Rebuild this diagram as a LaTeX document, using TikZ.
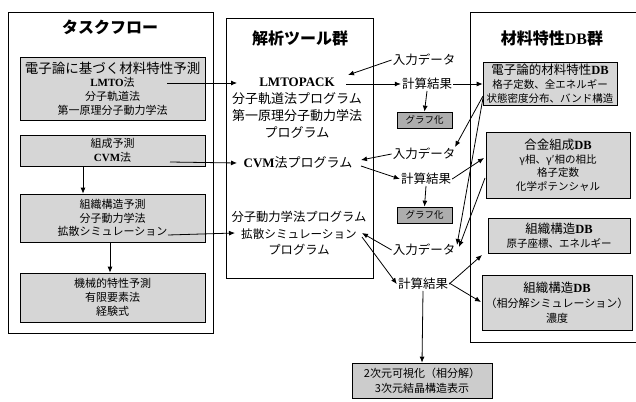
\documentclass[tikz,border=0pt]{standalone}
\usepackage{fontspec}
\setmainfont{Noto Sans CJK JP}
\newfontfamily\lat{Liberation Serif}
\usetikzlibrary{arrows.meta}
\newcommand{\LT}[1]{{\lat\bfseries #1}}
\tikzset{
  panel/.style={draw, line width=0.8pt},
  title/.style={font=\fontsize{16}{18}\selectfont\bfseries, inner sep=0pt},
  box/.style={draw, fill=black!16, line width=0.7pt, align=center, inner sep=1pt, font=\fontsize{11}{13.8}\selectfont},
  gbox/.style={draw, fill=black!32, line width=0.7pt, align=center, inner sep=0pt, font=\fontsize{9.5}{11}\selectfont, minimum width=55pt, minimum height=16pt},
  lbl/.style={font=\fontsize{12.5}{16.8}\selectfont, align=center, inner sep=1pt},
  arr/.style={-{Latex[length=6pt,width=5pt]}, line width=0.8pt},
}
\begin{document}
\begin{tikzpicture}[x=1pt,y=-1pt]
\useasboundingbox (0,0) rectangle (636,401);
% panels
\node[panel, minimum width=205pt, minimum height=321pt, inner sep=0pt] (pL) at (110.5,172.5) {};
\node[title] (tL) at (110,27) {タスクフロー};
\node[panel, minimum width=147pt, minimum height=260pt, inner sep=0pt] (pM) at (299.5,148) {};
\node[title] (tM) at (300,38) {解析ツール群};
\draw[panel] (640,12) -- (470,12) -- (470,342) -- (640,342);
\node[title] (tR) at (552,38) {材料特性\LT{DB}群};
% task flow boxes
\node[box, minimum width=185pt, minimum height=63pt] (t1) at (112.5,88.5)
  {{\fontsize{13.5}{15}\selectfont 電子論に基づく材料特性予測}\\\LT{LMTO}法\\分子軌道法\\第一原理分子動力学法};
\node[box, minimum width=185pt, minimum height=31pt] (t2) at (112.5,150.5) {組成予測\\\LT{CVM}法};
\node[box, minimum width=185pt, minimum height=48pt] (t3) at (112.5,218) {組織構造予測\\分子動力学法\\拡散シミュレーション};
\node[box, minimum width=185pt, minimum height=49pt] (t4) at (112.5,297.5) {機械的特性予測\\有限要素法\\経験式};
\draw[arr] ([xshift=-29.5pt]t2.south) -- ([xshift=-29.5pt]t3.north);
\draw[arr] ([xshift=-2.5pt]t3.south) -- ([xshift=-2.5pt]t4.north);
% tools
\node[lbl, font=\fontsize{13}{17}\selectfont] (m1) at (297,108.5) {\LT{LMTOPACK}\\分子軌道法プログラム\\第一原理分子動力学法\\プログラム};
\node[lbl, font=\fontsize{13}{17}\selectfont] (m2) at (298,163) {\LT{CVM}法プログラム};
\node[lbl, font=\fontsize{12.3}{16.5}\selectfont] (m3) at (299,233.5) {分子動力学法プログラム\\{\fontsize{11.6}{16.5}\selectfont 拡散シミュレーション}\\プログラム};
% connectors task -> tools
\coordinate (c1a) at (167,83);  \coordinate (c1b) at (237,83);
\coordinate (c2a) at (170,162); \coordinate (c2b) at (237,163);
\coordinate (c3a) at (168,235); \coordinate (c3b) at (235,233);
\draw[arr] (c1a) -- (c1b);
\draw[arr] (c2a) -- (c2b);
\draw[arr] (c3a) -- (c3b);
% data labels
\node[lbl] (in1) at (424,60) {入力データ};
\node[lbl] (r1) at (427,84) {計算結果};
\node[gbox] (g1) at (424.5,120) {グラフ化};
\node[lbl] (in2) at (424,154) {入力データ};
\node[lbl] (r2) at (426,179) {計算結果};
\node[gbox] (g2) at (424.5,215) {グラフ化};
\node[lbl] (in3) at (424,250) {入力データ};
\node[lbl] (r3) at (423,284) {計算結果};
\node[box, minimum width=140pt, minimum height=35pt, font=\fontsize{11}{15}\selectfont, fill=black!20] (bot) at (422,380.5) {2次元可視化（相分解）\\3次元結晶構造表示};
% DB boxes
\node[box, minimum width=134pt, minimum height=43pt, font=\fontsize{10.5}{14}\selectfont] (d1) at (550,83.5)
  {{\fontsize{12.5}{14}\selectfont 電子論的材料特性\LT{DB}}\\格子定数、全エネルギー\\状態密度分布、バンド構造};
\node[box, minimum width=144pt, minimum height=66pt, font=\fontsize{10.5}{13.5}\selectfont] (d2) at (558,165)
  {{\fontsize{12.5}{14}\selectfont 合金組成\LT{DB}}\\γ相、γ′相の相比\\格子定数\\化学ポテンシャル};
\node[box, minimum width=142pt, minimum height=35pt, font=\fontsize{10.5}{14}\selectfont] (d3) at (559,235.5)
  {{\fontsize{12.5}{14}\selectfont 組織構造\LT{DB}}\\原子座標、エネルギー};
\node[box, minimum width=150pt, minimum height=55pt, font=\fontsize{11}{15}\selectfont] (d4) at (557,302.5)
  {{\fontsize{12.5}{14}\selectfont 組織構造\LT{DB}}\\（相分解シミュレーション）\\濃度};
% endpoints near tool texts
\coordinate (p1) at (348,75);
\coordinate (p2) at (346,84);
\coordinate (p3) at (361,160);
\coordinate (p4) at (361,166);
\coordinate (p5) at (362,233);
\coordinate (p6) at (362,237);
\coordinate (q1) at (483,96);
\coordinate (q2) at (483,98);
\coordinate (q3) at (485,178);
\coordinate (e2) at (455,147);
\coordinate (e3) at (457,245);
\coordinate (e3b) at (459,247);
\coordinate (q4) at (484,158);
\coordinate (q5) at (482,255);
\coordinate (q6) at (481,302);
% arrows
\draw[arr] (in1.west) -- (p1);
\draw[arr] (p2) -- (r1.west);
\draw[arr] (r1.east) -- (r1.east -| d1.west);
\draw[arr] (r1.south) -- (g1.north);
\draw[arr] (q1) -- (e2);
\draw[arr] (q2) -- (e3);
\draw[arr] (q3) -- (e3b);
\draw[arr] (in2.west) -- (p3);
\draw[arr] (p4) -- (r2.west);
\draw[arr] (r2.east) -- (q4);
\draw[arr] (r2.south) -- (g2.north);
\draw[arr] (in3.west) -- (p5);
\draw[arr] (p6) -- (r3.west);
\draw[arr] (r3.east) -- (q5);
\draw[arr] ([yshift=1pt]r3.east) -- (q6);
\draw[arr] (r3.south) -- (bot.north);
\end{tikzpicture}
\end{document}
